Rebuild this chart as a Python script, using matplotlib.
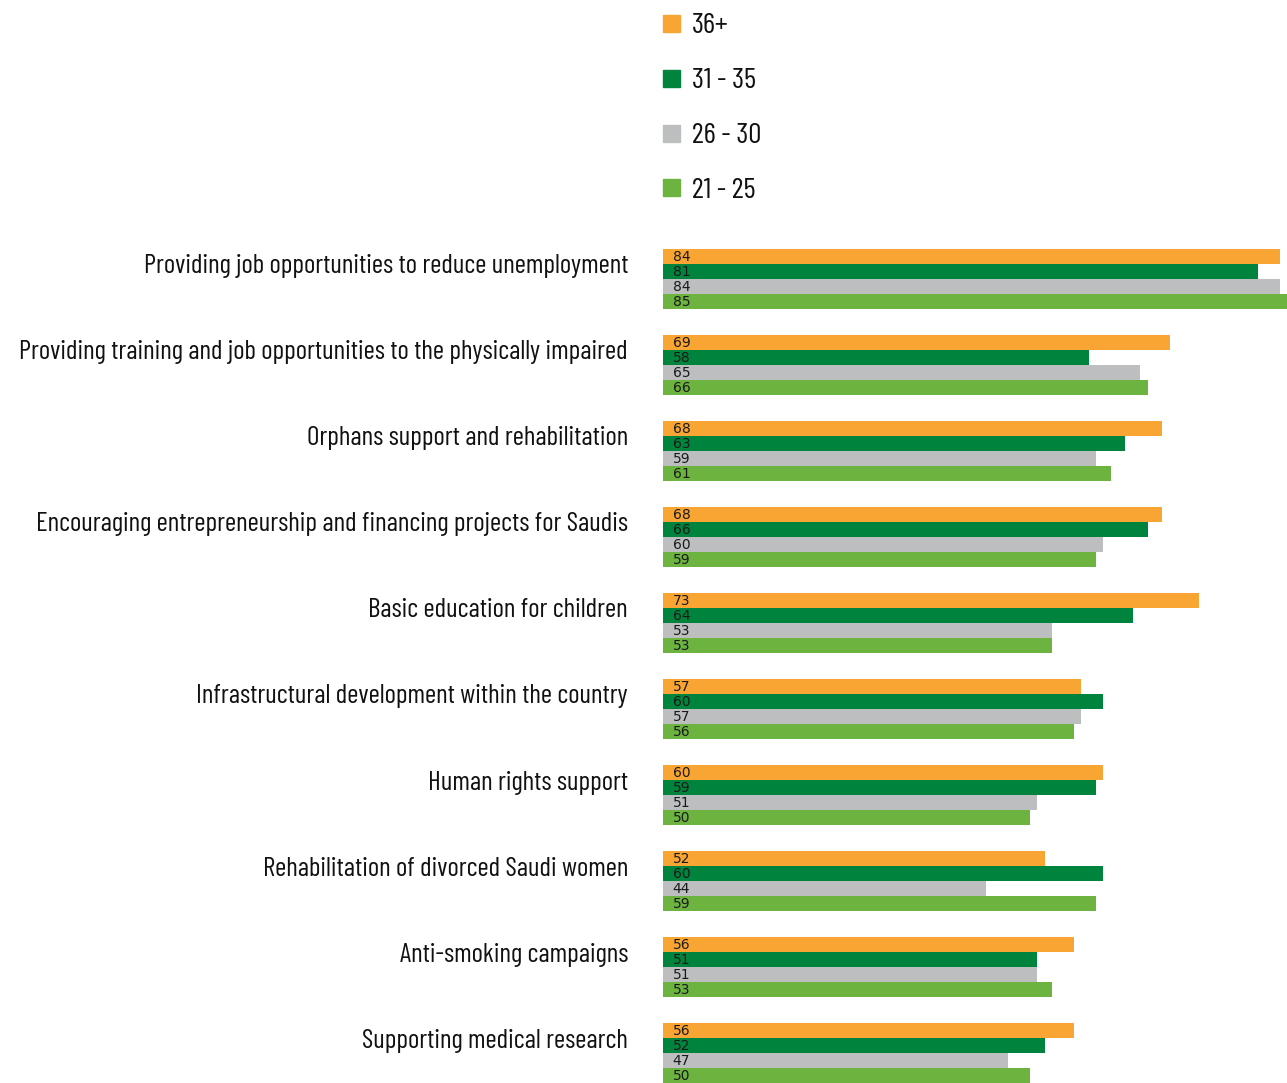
import matplotlib
matplotlib.use("Agg")
import matplotlib.pyplot as plt

# survey results by age group
causes = [
    "Providing job opportunities to reduce unemployment",
    "Providing training and job opportunities to the physically impaired",
    "Orphans support and rehabilitation",
    "Encouraging entrepreneurship and financing projects for Saudis",
    "Basic education for children",
    "Infrastructural development within the country",
    "Human rights support",
    "Rehabilitation of divorced Saudi women",
    "Anti-smoking campaigns",
    "Supporting medical research",
]
age_groups = ["36+", "31 - 35", "26 - 30", "21 - 25"]
age_36_plus = [84, 69, 68, 68, 73, 57, 60, 52, 56, 56]
age_31_35 = [81, 58, 63, 66, 64, 60, 59, 60, 51, 52]
age_26_30 = [84, 65, 59, 60, 53, 57, 51, 44, 51, 47]
age_21_25 = [85, 66, 61, 59, 53, 56, 50, 59, 53, 50]
colors = ["#F9A533", "#00843D", "#BCBEC0", "#6DB33F"]

cond = ["Barlow Condensed", "DejaVu Sans"]

W, H = 1287, 1083
fig = plt.figure(figsize=(W / 100, H / 100), dpi=100)
ax = fig.add_axes([663 / W, 0, 1 - 663 / W, (1083 - 249) / H])

series = [age_36_plus, age_31_35, age_26_30, age_21_25]
bar_h = 0.174
for k, (vals, col) in enumerate(zip(series, colors)):
    for i, v in enumerate(vals):
        y = i + (k - 1.5) * bar_h
        ax.barh(y, v, height=bar_h, color=col, linewidth=0)
        ax.text(1.3, y + 0.005, str(v), fontsize=10, color="#1a1a1a",
                va="center", ha="left", family="DejaVu Sans")

ax.set_xlim(0, 85)
ax.set_ylim(9.349, -0.349)
ax.axis("off")

for i, c in enumerate(causes):
    fig.text(628 / W, 1 - (266 + 86.1 * i) / H, c, ha="right", va="center",
             fontsize=19.5, family=cond, color="#111111")

# legend
for k, lab in enumerate(age_groups):
    yc = 23 + 55 * k
    fig.patches.append(plt.Rectangle((663 / W, 1 - (yc + 8.5) / H), 17 / W, 17 / H,
                                     transform=fig.transFigure, color=colors[k], figure=fig))
    fig.text(692 / W, 1 - (yc + 3) / H, lab, ha="left", va="center",
             fontsize=21, family=cond, color="#111111")

fig.savefig("out.png", dpi=100)
